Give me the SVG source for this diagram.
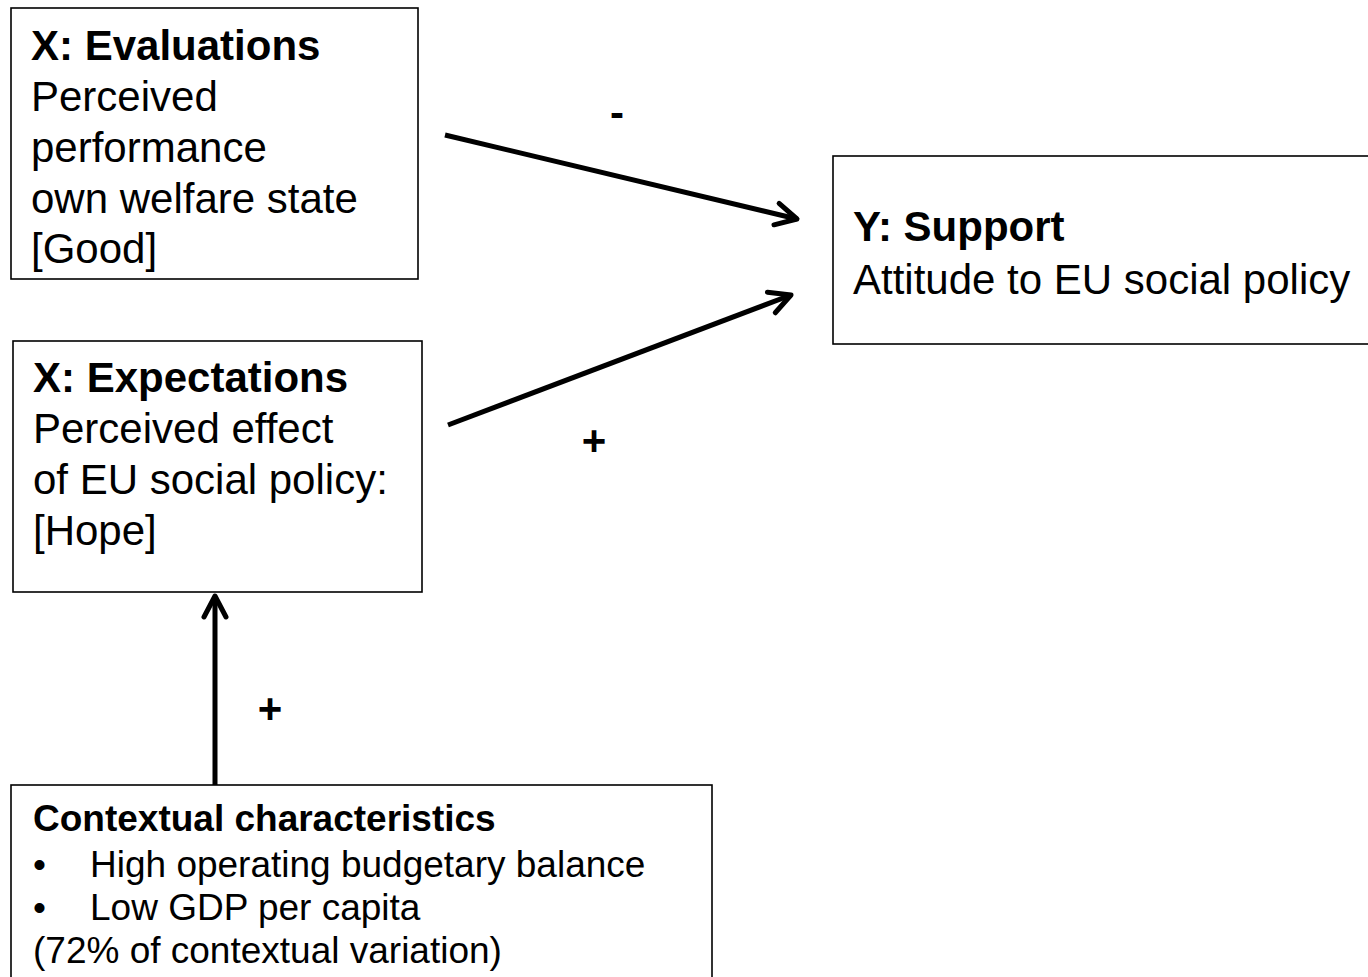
<svg xmlns="http://www.w3.org/2000/svg" width="1368" height="977" viewBox="0 0 1368 977">
<style>
.box{fill:#fff;stroke:#000;stroke-width:1.6}
.t{font-family:"Liberation Sans",Arial,sans-serif;font-size:42px;fill:#000}
.b{font-weight:bold}
.s{font-size:37px}
.conn{stroke:#000;stroke-width:5;fill:none}
.lbl{font-family:"Liberation Sans",Arial,sans-serif;font-size:42px;font-weight:bold;fill:#000;text-anchor:middle}
</style>
<defs>
<marker id="arr" markerUnits="userSpaceOnUse" markerWidth="40" markerHeight="40" viewBox="-30 -20 40 40" refX="0" refY="0" orient="auto">
<path d="M-21,-11 L0,0 L-21,11" fill="none" stroke="#000" stroke-width="5" stroke-linejoin="round" stroke-linecap="round"/>
</marker>
</defs>
<rect width="1368" height="977" fill="#fff"/>
<g id="evaluations">
<rect class="box" x="11" y="8" width="407" height="271"/>
<text class="t b" x="31" y="60">X: Evaluations</text>
<text class="t" x="31" y="111">Perceived</text>
<text class="t" x="31" y="162">performance</text>
<text class="t" x="31" y="213">own welfare state</text>
<text class="t" x="31" y="263">[Good]</text>
</g>
<g id="expectations">
<rect class="box" x="13" y="341" width="409" height="251"/>
<text class="t b" x="33" y="392">X: Expectations</text>
<text class="t" x="33" y="443">Perceived effect</text>
<text class="t" x="33" y="494">of EU social policy:</text>
<text class="t" x="33" y="545">[Hope]</text>
</g>
<g id="support">
<rect class="box" x="833" y="156" width="560" height="188"/>
<text class="t b" x="853" y="241">Y: Support</text>
<text class="t" x="853" y="294">Attitude to EU social policy</text>
</g>
<g id="context">
<rect class="box" x="11" y="785" width="701" height="220"/>
<text class="t b s" x="33" y="831">Contextual characteristics</text>
<text class="t s" x="33" y="877">•</text>
<text class="t s" x="90" y="877">High operating budgetary balance</text>
<text class="t s" x="33" y="920">•</text>
<text class="t s" x="90" y="920">Low GDP per capita</text>
<text class="t s" x="33" y="963">(72% of contextual variation)</text>
</g>
<g id="connectors">
<line class="conn" x1="445" y1="135" x2="797" y2="219" marker-end="url(#arr)"/>
<line class="conn" x1="448" y1="425" x2="791" y2="295" marker-end="url(#arr)"/>
<line class="conn" x1="215" y1="785" x2="215" y2="596" marker-end="url(#arr)"/>
<text class="lbl" x="617" y="127">-</text>
<text class="lbl" x="594" y="455">+</text>
<text class="lbl" x="270" y="723">+</text>
</g>
</svg>
